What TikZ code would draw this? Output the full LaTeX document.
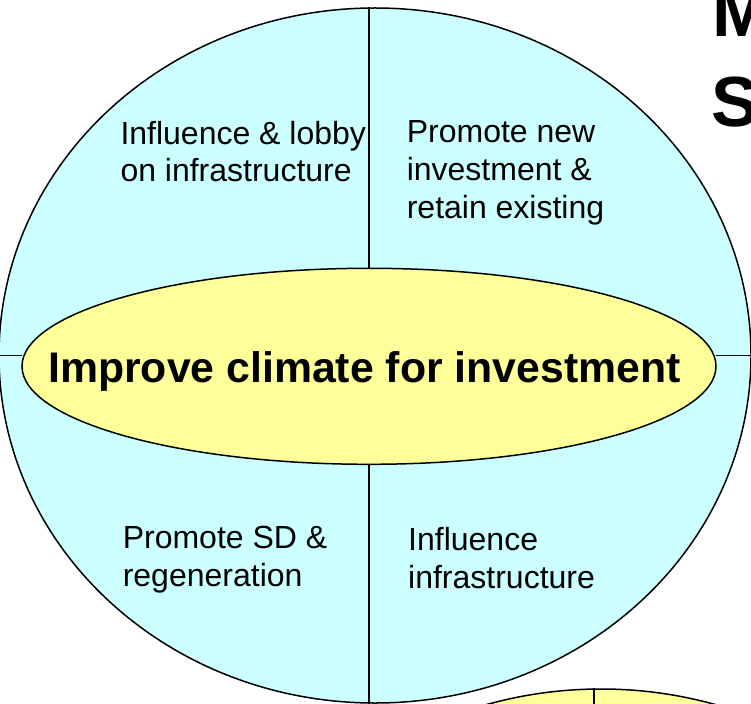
\documentclass[tikz,border=0pt]{standalone}
\usepackage{fontspec}
\setmainfont{Liberation Sans}
\usetikzlibrary{shapes.geometric}
\definecolor{cyanfill}{HTML}{CCFFFF}
\definecolor{yelfill}{HTML}{FFFF99}
\tikzset{
  outline/.style={draw=black, line width=1.5bp},
  quadtext/.style={anchor=base west, inner sep=0pt, align=left,
    font=\fontsize{32bp}{37.5bp}\selectfont},
  titletext/.style={anchor=base west, inner sep=0pt,
    font=\fontsize{71bp}{80bp}\selectfont\bfseries},
}
\begin{document}
\begin{tikzpicture}[x=1bp, y=-1bp]
\useasboundingbox (0,0) rectangle (751,704);
\clip (0,0) rectangle (751,704);
% outer ellipse
\node[ellipse, outline, fill=cyanfill, inner sep=0pt,
      minimum width=752bp, minimum height=695bp] (big) at (375,355.5) {};
% lower-right partial ellipse
\node[ellipse, outline, fill=yelfill, inner sep=0pt,
      minimum width=790bp, minimum height=732bp] (low) at (601,1055) {};
\draw[outline] (low.north -| 594,0) -- (594,720);
% inner ellipse node geometry (drawn after dividers)
\path node[ellipse, inner sep=0pt, minimum width=694bp, minimum height=196bp]
  (yel) at (369,366.3) {};
% dividers
\draw[outline] (big.west) -- (big.west -| yel.west);
\draw[outline] (big.east) -- (big.east -| yel.east);
\draw[outline] (yel.north) -- (yel.north |- big.north);
\draw[outline] (yel.south) -- (yel.south |- big.south);
% inner ellipse
\node[ellipse, outline, fill=yelfill, inner sep=0pt,
      minimum width=694bp, minimum height=196bp] (yelb) at (369,366.3) {};
\node[anchor=base west, inner sep=0pt,
      font=\fontsize{42.8bp}{50bp}\selectfont\bfseries] (ctr) at (48,382)
  {Improve climate for investment};
% quadrant texts (base anchor = last line)
\node[quadtext] (q1) at (120.3,181.7) {Influence \& lobby\\on infrastructure};
\node[quadtext] (q2) at (406.6,218) {Promote new\\investment \&\\retain existing};
\node[quadtext] (q3) at (122.6,586) {Promote SD \&\\regeneration};
\node[quadtext] (q4) at (408,588) {Influence\\infrastructure};
% clipped title letters
\node[titletext] (t1) at (712,37) {M};
\node[titletext] (t2) at (711,127) {S};
\end{tikzpicture}
\end{document}
